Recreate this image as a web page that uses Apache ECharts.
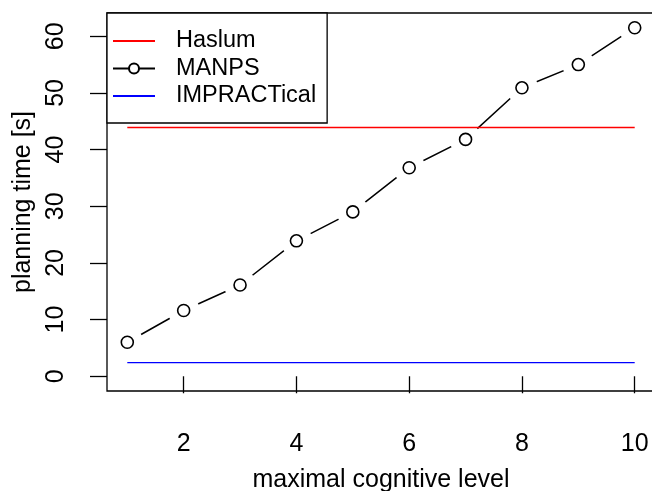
<!DOCTYPE html>
<html>
<head>
<meta charset="utf-8">
<script src="https://cdn.jsdelivr.net/npm/echarts@6/dist/echarts.min.js"></script>
<style>html,body{margin:0;padding:0;background:#fff;}#c{width:652px;height:491px;}</style>
</head>
<body>
<div id="c"></div>
<script>
// ---- data ----
var levels = [1, 2, 3, 4, 5, 6, 7, 8, 9, 10];
var manpsTimes = [6.0, 11.6, 16.1, 23.9, 29.0, 36.8, 41.8, 50.9, 55.0, 61.5];
var haslumLevels = [1, 10];
var haslumTimes = [43.9, 43.9];
var impracticalLevels = [1, 10];
var impracticalTimes = [2.4, 2.4];
var xTicks = [2, 4, 6, 8, 10];
var yTicks = [0, 10, 20, 30, 40, 50, 60];
var seriesNames = ['Haslum', 'MANPS', 'IMPRACTical'];

function pairs(xs, ys) { return xs.map(function (x, i) { return [x, ys[i]]; }); }

var FONT = 'Liberation Sans, Arial, Helvetica, sans-serif';
var chart = echarts.init(document.getElementById('c'), null, { renderer: 'canvas' });
chart.setOption({
  animation: false,
  backgroundColor: '#fff',
  textStyle: { fontFamily: FONT },
  grid: {
    left: 107, top: 13, width: 548, height: 378,
    containLabel: false, outerBoundsMode: 'none',
    show: true, borderColor: '#000', borderWidth: 1.3, backgroundColor: 'transparent', z: 10
  },
  legend: {
    orient: 'vertical', left: 107, top: 13, z: 20,
    padding: [16, 11, 15, 5],
    backgroundColor: '#fff', borderColor: '#000', borderWidth: 1.3, borderRadius: 0,
    itemWidth: 42, itemHeight: 12.5, itemGap: 3.5,
    textStyle: { fontSize: 23.5, color: '#000', fontFamily: FONT, lineHeight: 24, padding: [0, 0, 0, 16] },
    data: [
      { name: seriesNames[0], itemStyle: { opacity: 0 } },
      { name: seriesNames[1] },
      { name: seriesNames[2], itemStyle: { opacity: 0 } }
    ]
  },
  xAxis: {
    type: 'value', min: 0.64, max: 10.36,
    name: 'maximal cognitive level', nameLocation: 'middle', nameGap: 77,
    nameTextStyle: { fontSize: 25, color: '#000', fontFamily: FONT, lineHeight: 25 },
    axisLine: { show: false },
    axisTick: { show: true, inside: false, length: 17, customValues: xTicks, lineStyle: { color: '#000', width: 1.3 } },
    axisLabel: { show: true, margin: 41, fontSize: 25, color: '#000', fontFamily: FONT, lineHeight: 25, customValues: xTicks },
    splitLine: { show: false }
  },
  yAxis: {
    type: 'value', min: -2.6, max: 64.1,
    name: 'planning time [s]', nameLocation: 'middle', nameGap: 67, nameRotate: 90,
    nameTextStyle: { fontSize: 25, color: '#000', fontFamily: FONT, lineHeight: 25 },
    axisLine: { show: false },
    axisTick: { show: true, inside: false, length: 17, customValues: yTicks, lineStyle: { color: '#000', width: 1.3 } },
    axisLabel: { show: true, margin: 38, rotate: 90, fontSize: 25, color: '#000', fontFamily: FONT, lineHeight: 25, customValues: yTicks },
    splitLine: { show: false }
  },
  series: [
    {
      name: seriesNames[1], type: 'line', z: 2,
      data: pairs(levels, manpsTimes),
      symbol: 'circle', symbolSize: 12, showSymbol: true,
      itemStyle: { color: '#fff', borderColor: '#000', borderWidth: 1.5 },
      lineStyle: { color: '#000', width: 1.5 },
      emphasis: { disabled: true }, silent: true
    },
    {
      type: 'scatter', z: 3,
      data: pairs(levels, manpsTimes),
      symbol: 'circle', symbolSize: 32,
      itemStyle: { color: '#fff', opacity: 1 },
      emphasis: { disabled: true }, silent: true
    },
    {
      type: 'scatter', z: 4,
      data: pairs(levels, manpsTimes),
      symbol: 'circle', symbolSize: 12,
      itemStyle: { color: '#fff', borderColor: '#000', borderWidth: 1.6, opacity: 1 },
      emphasis: { disabled: true }, silent: true
    },
    {
      name: seriesNames[0], type: 'line', z: 5,
      data: pairs(haslumLevels, haslumTimes),
      symbol: 'none',
      lineStyle: { color: '#ff0000', width: 1.3 },
      itemStyle: { color: '#ff0000' },
      emphasis: { disabled: true }, silent: true
    },
    {
      name: seriesNames[2], type: 'line', z: 5,
      data: pairs(impracticalLevels, impracticalTimes),
      symbol: 'none',
      lineStyle: { color: '#0000ff', width: 1.3 },
      itemStyle: { color: '#0000ff' },
      emphasis: { disabled: true }, silent: true
    }
  ]
});
</script>
</body>
</html>
